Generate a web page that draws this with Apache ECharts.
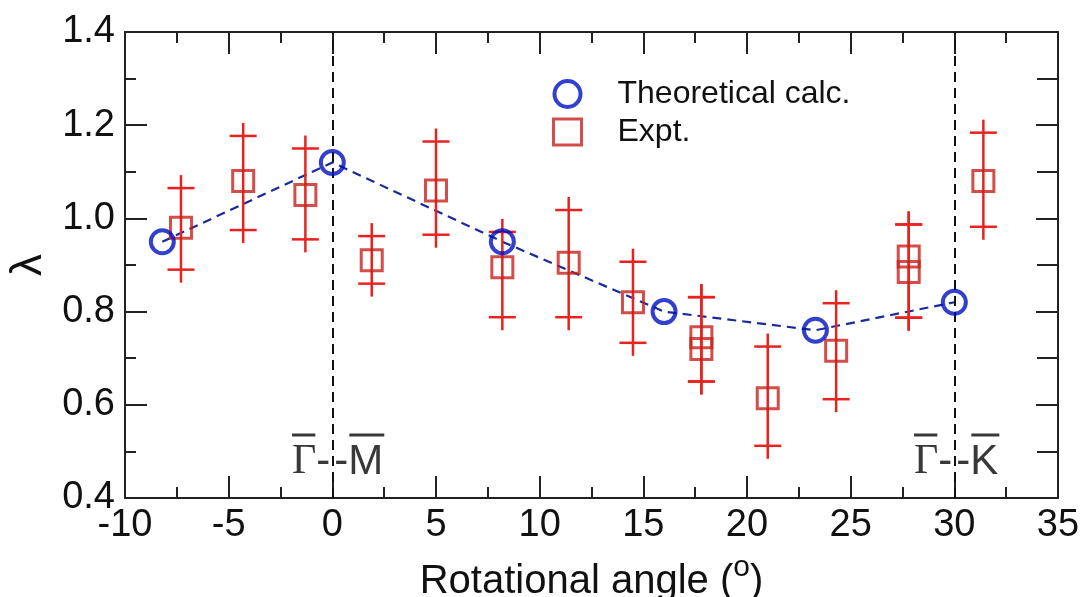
<!DOCTYPE html>
<html>
<head>
<meta charset="utf-8">
<script src="https://cdn.jsdelivr.net/npm/echarts@6/dist/echarts.min.js"></script>
<style>
html,body{margin:0;padding:0;background:#fff;}
#chart{width:1084px;height:597px;}
</style>
</head>
<body>
<div id="chart"></div>
<script>
// ---------- data ----------
const theoX = [-8.2, 0, 8.2, 16.0, 23.3, 30];
const theoY = [0.95, 1.12, 0.95, 0.80, 0.76, 0.82];

const exptX  = [-7.3, -4.3, -1.3, 1.9, 5.0, 8.2, 11.4, 14.5, 17.8, 17.8, 21.0, 24.3, 27.8, 27.8, 31.4];
const exptY  = [0.98, 1.08, 1.05, 0.91, 1.06, 0.895, 0.905, 0.82, 0.745, 0.72, 0.614, 0.716, 0.918, 0.885, 1.08];
const exptLo = [0.89, 0.975, 0.955, 0.86, 0.965, 0.788, 0.788, 0.733, 0.65, 0.65, 0.512, 0.612, 0.787, 0.787, 0.982];
const exptHi = [1.065, 1.177, 1.15, 0.962, 1.165, 0.971, 1.018, 0.907, 0.831, 0.831, 0.725, 0.818, 0.987, 0.987, 1.184];

const symLineX = [0, 30];
const symLeft = ['Γ', 'Γ'];
const symRight = ['M', 'K'];

const xTicks = {min: -10, max: 35, step: 5};
const yTicks = {min: 0.4, max: 1.4, step: 0.2};

// ---------- helpers ----------
const mctx = document.createElement('canvas').getContext('2d');
function tw(t, font){ mctx.font = font; return mctx.measureText(t).width; }

const chart = echarts.init(document.getElementById('chart'), null, {renderer:'canvas'});

const FF = '"Liberation Sans", Arial, sans-serif';
const axisCol = '#222';
const blue = '#0010c0';
const red = '#e8231e';
const redSq = '#c8201c';

function xAxisCfg(pos, labels){
  return {
    type:'value', position:pos, min:xTicks.min, max:xTicks.max, interval:xTicks.step,
    axisLine:{show:true, onZero:false, lineStyle:{color:axisCol, width:2}},
    axisTick:{show:true, inside:true, length:22, lineStyle:{color:axisCol, width:2}},
    minorTick:{show:true, splitNumber:2, length:11, lineStyle:{color:axisCol, width:2}},
    splitLine:{show:false}, minorSplitLine:{show:false},
    axisLabel:{show:labels, fontSize:38, color:'#111', margin:9, fontFamily:FF}
  };
}
function yAxisCfg(pos, labels, minorLen){
  return {
    type:'value', position:pos, min:yTicks.min, max:yTicks.max, interval:yTicks.step,
    axisLine:{show:true, onZero:false, lineStyle:{color:axisCol, width:2}},
    axisTick:{show:true, inside:true, length:22, lineStyle:{color:axisCol, width:2}},
    minorTick:{show:true, splitNumber:2, length:minorLen, lineStyle:{color:axisCol, width:2}},
    splitLine:{show:false}, minorSplitLine:{show:false},
    axisLabel:{show:labels, fontSize:38, color:'#111', margin:10, fontFamily:FF,
      formatter:v => v.toFixed(1)}
  };
}

const xb = xAxisCfg('bottom', true);
xb.name = 'Rotational angle ({sup|o})';
xb.nameLocation = 'middle';
xb.nameGap = 55;
xb.nameTextStyle = {fontSize:40, color:'#111', lineHeight:58, fontFamily:FF,
  rich:{sup:{fontSize:30, lineHeight:6, verticalAlign:'top', color:'#111', fontFamily:FF}}};
const xt = xAxisCfg('top', false);
const yl = yAxisCfg('left', true, 11);
yl.name = 'λ';
yl.nameLocation = 'middle';
yl.nameGap = 68;
yl.nameRotate = 90;
yl.nameTextStyle = {fontSize:44, color:'#111', fontFamily:FF};
const yr = yAxisCfg('right', false, 21);

const sansFont = '42px "Liberation Sans", Arial, sans-serif';
const serifFont = '42px "Liberation Serif", "Times New Roman", serif';

const option = {
  animation:false,
  backgroundColor:'#fff',
  grid:{left:125, top:32, right:26, bottom:99, containLabel:false, outerBoundsMode:'none'},
  xAxis:[xb, xt],
  yAxis:[yl, yr],
  legend:{
    orient:'vertical', left:547, top:73, itemWidth:28, itemHeight:26, itemGap:6,
    textStyle:{fontSize:32, color:'#111', lineHeight:32, padding:[0,0,0,31], fontFamily:FF},
    data:[
      {name:'Theoretical calc.', icon:'circle', itemStyle:{color:'rgba(0,0,0,0)', borderColor:blue, borderWidth:4}},
      {name:'Expt.', icon:'rect', itemStyle:{color:'rgba(0,0,0,0)', borderColor:redSq, borderWidth:3}}
    ]
  },
  series:[
    {
      name:'theory-line', type:'line', xAxisIndex:0, yAxisIndex:0,
      data: theoX.map((x,i)=>[x, theoY[i]]),
      showSymbol:false, symbol:'none', smooth:false,
      lineStyle:{color:'#1a2a9a', width:2.2, type:[9,6]},
      z:3,
      markLine:{
        silent:true, symbol:['none','none'], label:{show:false},
        lineStyle:{color:'#111', width:2, type:[10,6]},
        data: symLineX.map(x=>({xAxis:x}))
      }
    },
    {
      name:'errbars', type:'custom', xAxisIndex:0, yAxisIndex:0,
      data: exptX.map((x,i)=>[x, exptLo[i], exptHi[i]]),
      encode:{x:0, y:[1,2]},
      z:4,
      renderItem:function(params, api){
        const x = api.value(0);
        const pLo = api.coord([x, api.value(1)]);
        const pHi = api.coord([x, api.value(2)]);
        const ext = 13, cap = 13.5;
        const st = {stroke:red, lineWidth:2.5};
        return {type:'group', children:[
          {type:'line', shape:{x1:pLo[0], y1:pHi[1]-ext, x2:pLo[0], y2:pLo[1]+ext}, style:st},
          {type:'line', shape:{x1:pLo[0]-cap, y1:pHi[1], x2:pLo[0]+cap, y2:pHi[1]}, style:st},
          {type:'line', shape:{x1:pLo[0]-cap, y1:pLo[1], x2:pLo[0]+cap, y2:pLo[1]}, style:st}
        ]};
      }
    },
    {
      name:'Expt.', type:'scatter', xAxisIndex:0, yAxisIndex:0,
      data: exptX.map((x,i)=>[x, exptY[i]]),
      symbol:'rect', symbolSize:21,
      itemStyle:{color:'rgba(0,0,0,0)', borderColor:redSq, borderWidth:3},
      z:5
    },
    {
      name:'Theoretical calc.', type:'scatter', xAxisIndex:0, yAxisIndex:0,
      data: theoX.map((x,i)=>[x, theoY[i]]),
      symbol:'circle', symbolSize:23,
      itemStyle:{color:'rgba(0,0,0,0)', borderColor:blue, borderWidth:4},
      z:6
    },
    {
      name:'symlabels', type:'custom', xAxisIndex:0, yAxisIndex:0,
      data: symLineX.map(x=>[x, yTicks.min]),
      encode:{x:0, y:1},
      z:7, silent:true,
      renderItem:function(params, api){
        const i = params.dataIndex;
        const p = api.coord([api.value(0), api.value(1)]);
        const cx = p[0], cy = p[1] - 36;
        const L = symLeft[i], R = symRight[i];
        const wD = tw('-', sansFont);
        const wL = tw(L, serifFont);
        const wR = tw(R, sansFont);
        const col = '#383838';
        const gxR = cx - 2 - wD;
        const rx = cx + 2 + wD;
        const barY = p[1] - 63;
        return {type:'group', children:[
          {type:'text', style:{text:'-', x:cx-2, y:cy, align:'right', verticalAlign:'middle', font:sansFont, fill:col}},
          {type:'text', style:{text:L, x:gxR, y:cy, align:'right', verticalAlign:'middle', font:serifFont, fill:col}},
          {type:'text', style:{text:'-', x:cx+2, y:cy, align:'left', verticalAlign:'middle', font:sansFont, fill:col}},
          {type:'text', style:{text:R, x:rx, y:cy, align:'left', verticalAlign:'middle', font:sansFont, fill:col}},
          {type:'line', shape:{x1:gxR-wL, y1:barY, x2:gxR-1, y2:barY}, style:{stroke:col, lineWidth:3}},
          {type:'line', shape:{x1:rx+1, y1:barY, x2:rx+wR+1, y2:barY}, style:{stroke:col, lineWidth:3}}
        ]};
      }
    }
  ]
};
chart.setOption(option);
</script>
</body>
</html>
